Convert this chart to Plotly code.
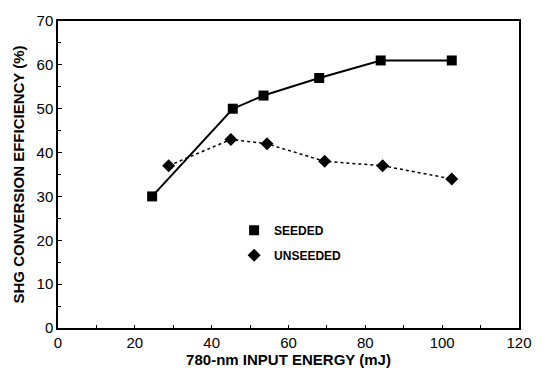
import plotly.graph_objects as go

seeded_x = [24.5, 45.5, 53.5, 68, 84, 102.5]
seeded_y = [30, 50, 53, 57, 61, 61]
unseeded_x = [28.8, 45, 54.4, 69.4, 84.5, 102.5]
unseeded_y = [37, 43, 42, 38, 37, 34]
x_ticks = [0, 20, 40, 60, 80, 100, 120]
y_ticks = [0, 10, 20, 30, 40, 50, 60, 70]

fig = go.Figure()
fig.add_trace(go.Scatter(x=seeded_x, y=seeded_y, name="SEEDED", mode="lines+markers",
                         line=dict(color="black", width=2), showlegend=False,
                         marker=dict(symbol="square", size=10, color="black")))
fig.add_trace(go.Scatter(x=unseeded_x, y=unseeded_y, name="UNSEEDED", mode="lines+markers",
                         line=dict(color="black", width=1.5, dash="dot"), showlegend=False,
                         marker=dict(symbol="diamond", size=10, color="black")))
# legend entries (markers only)
fig.add_trace(go.Scatter(x=[None], y=[None], name="<b>SEEDED</b>", mode="markers",
                         legendgroup="a",
                         marker=dict(symbol="square", size=10, color="black")))
fig.add_trace(go.Scatter(x=[None], y=[None], name="<b>UNSEEDED</b>", mode="markers",
                         legendgroup="b",
                         marker=dict(symbol="diamond", size=10, color="black")))

fig.update_layout(
    width=544, height=377,
    margin=dict(l=58, r=14, t=12, b=48),
    plot_bgcolor="white", paper_bgcolor="white",
    font=dict(family="Liberation Sans, Arial", color="black", size=15),
    legend=dict(x=0.382, y=0.278, xanchor="left", yanchor="middle",
                font=dict(size=12, family="Liberation Sans, Arial"),
                bgcolor="rgba(0,0,0,0)", itemwidth=30, tracegroupgap=6),
    showlegend=True,
)
fig.update_xaxes(range=[0, 120], tickvals=x_ticks, showgrid=False, zeroline=False,
                 showline=True, linecolor="black", linewidth=1.5, mirror=True,
                 ticks="inside", ticklen=3, tickcolor="black",
                 minor=dict(ticks="inside", ticklen=3, dtick=10, tickcolor="black"),
                 title=dict(text="<b>780-nm INPUT ENERGY (mJ)</b>", font=dict(size=15), standoff=4),
                 tickfont=dict(size=15))
fig.update_yaxes(range=[0, 70], tickvals=y_ticks, showgrid=False, zeroline=False,
                 showline=True, linecolor="black", linewidth=1.5, mirror=True,
                 ticks="inside", ticklen=4, tickcolor="black",
                 minor=dict(ticks="inside", ticklen=3, dtick=5, tickcolor="black"),
                 title=dict(text="<b>SHG CONVERSION EFFICIENCY (%)</b>", font=dict(size=15), standoff=8),
                 tickfont=dict(size=15))

fig.write_html("out.html")
